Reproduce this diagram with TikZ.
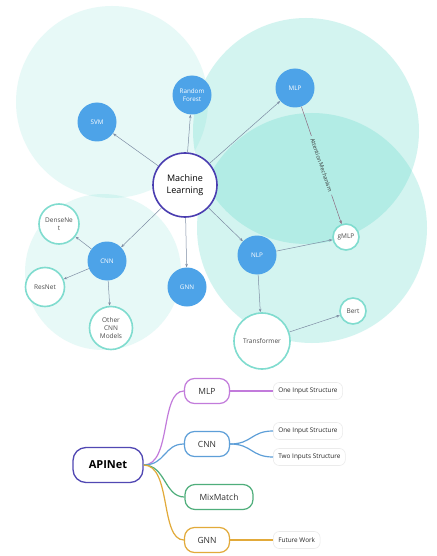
\documentclass[tikz,border=0pt]{standalone}
\usepackage{fontspec}
\setmainfont{Open Sans}
\usetikzlibrary{arrows.meta}
\definecolor{bubble}{HTML}{4AD4C3}
\definecolor{blueN}{HTML}{4DA3E8}
\definecolor{tealB}{HTML}{80DCCF}
\definecolor{mlB}{HTML}{4A3DB0}
\definecolor{edgeC}{HTML}{7D8CA3}
\definecolor{attC}{HTML}{8E6A80}
\definecolor{apiC}{HTML}{5148B3}
\definecolor{mlpC}{HTML}{C27BDB}
\definecolor{cnnC}{HTML}{5E9FD8}
\definecolor{mixC}{HTML}{4FAE7B}
\definecolor{gnnC}{HTML}{E2AA3A}
\tikzset{
  bluenode/.style={circle, fill=blueN, text=white, minimum size=39pt, inner sep=0pt,
    font=\fontsize{6.3}{8}\selectfont, align=center},
  tealnode/.style={circle, draw=tealB, line width=1.6pt, fill=white, text=black!70,
    inner sep=0pt, font=\fontsize{6.5}{8.3}\selectfont, align=center},
  mlnode/.style={circle, draw=mlB, line width=1.6pt, fill=white, minimum size=64pt,
    inner sep=0pt, align=center, font=\fontsize{9}{12.5}\selectfont},
  edge/.style={draw=edgeC, line width=0.5pt, -{Stealth[length=3.5pt,width=2.6pt]}},
  mmroot/.style={rectangle, rounded corners=13pt, draw=apiC, line width=1.3pt,
    minimum width=70pt, minimum height=35pt, font=\bfseries\fontsize{11}{13}\selectfont},
  mmchild/.style={rectangle, rounded corners=10pt, line width=1.2pt, minimum height=25pt,
    minimum width=45pt, font=\fontsize{8.5}{10}\selectfont, text=black!80},
  mmleaf/.style={rectangle, draw=black!8, rounded corners=6pt, line width=0.6pt,
    minimum height=17pt, inner xsep=5pt, font=\fontsize{6.4}{8}\selectfont, text=black!85, fill=white},
  branch/.style={line width=1.2pt},
}
\begin{document}
\begin{tikzpicture}[x=1pt,y=-1pt]
\useasboundingbox (0,0) rectangle (436,556);
\fill[white] (0,0) rectangle (436,556);
% bubbles
\fill[bubble, fill opacity=0.13] (112,102) circle[radius=96pt];
\fill[bubble, fill opacity=0.13] (103,272) circle[radius=78pt];
\fill[bubble, fill opacity=0.24] (306,131) circle[radius=113pt];
\fill[bubble, fill opacity=0.24] (312,228) circle[radius=115pt];
% nodes
\node[mlnode] (ml) at (185,185) {Machine\\Learning};
\node[bluenode] (svm) at (97,122) {SVM};
\node[bluenode] (rf) at (192,95) {Random\\Forest};
\node[bluenode] (mlp) at (295,88) {MLP};
\node[bluenode] (cnn) at (107,261) {CNN};
\node[bluenode] (gnn) at (187,287) {GNN};
\node[bluenode] (nlp) at (257,255) {NLP};
\node[tealnode, minimum size=40pt] (dense) at (59,224) {DenseNe\\t};
\node[tealnode, minimum size=39pt] (res) at (45,287) {ResNet};
\node[tealnode, minimum size=43pt] (other) at (111,328) {Other\\CNN\\Models};
\node[tealnode, minimum size=26pt] (gmlp) at (346,237) {gMLP};
\node[tealnode, minimum size=26pt] (bert) at (353,311) {Bert};
\node[tealnode, minimum size=56pt] (trans) at (262,341) {Transformer};
% edges
\draw[edge] (ml) -- (svm);
\draw[edge] (ml) -- (rf);
\draw[edge] (ml) -- (mlp);
\draw[edge] (ml) -- (cnn);
\draw[edge] (ml) -- (gnn);
\draw[edge] (ml) -- (nlp);
\draw[edge] (cnn) -- (dense);
\draw[edge] (cnn) -- (res);
\draw[edge] (cnn) -- (other);
\draw[edge] (nlp) -- (gmlp);
\draw[edge] (nlp) -- (trans);
\draw[edge] (trans) -- (bert);
\path (mlp) -- node[sloped, pos=0.5, inner xsep=3pt, font=\fontsize{5.6}{6.5}\selectfont, text=black!80] (att) {Attention Mechanism} (gmlp);
\draw[draw=attC, line width=0.5pt] (mlp) -- (att.west);
\draw[edge, draw=attC] (att.east) -- (gmlp);
% mind map
\node[mmroot] (api) at (108,465) {APINet};
\node[mmchild, draw=mlpC] (mmlp) at (207,391) {MLP};
\node[mmchild, draw=cnnC] (mcnn) at (207,444) {CNN};
\node[mmchild, draw=mixC, minimum width=68pt] (mmix) at (219,497) {MixMatch};
\node[mmchild, draw=gnnC] (mgnn) at (207,540) {GNN};
\node[mmleaf, anchor=west] (l1) at (273,391) {One Input Structure};
\node[mmleaf, anchor=west] (l2) at (273,431) {One Input Structure};
\node[mmleaf, anchor=west] (l3) at (273,457) {Two Inputs Structure};
\node[mmleaf, anchor=west] (l4) at (273,540) {Future Work};
\draw[branch, mlpC] (api.east) .. controls +(28,0) and +(-24,0) .. (mmlp.west);
\draw[branch, cnnC] (api.east) .. controls +(22,0) and +(-20,0) .. (mcnn.west);
\draw[branch, mixC] (api.east) .. controls +(22,0) and +(-20,0) .. (mmix.west);
\draw[branch, gnnC] (api.east) .. controls +(28,0) and +(-24,0) .. (mgnn.west);
\draw[branch, mlpC] (mmlp.east) -- (l1.west);
\draw[branch, cnnC] (mcnn.east) .. controls +(22,0) and +(-22,0) .. (l2.west);
\draw[branch, cnnC] (mcnn.east) .. controls +(22,0) and +(-22,0) .. (l3.west);
\draw[branch, gnnC] (mgnn.east) -- (l4.west);
\end{tikzpicture}
\end{document}
